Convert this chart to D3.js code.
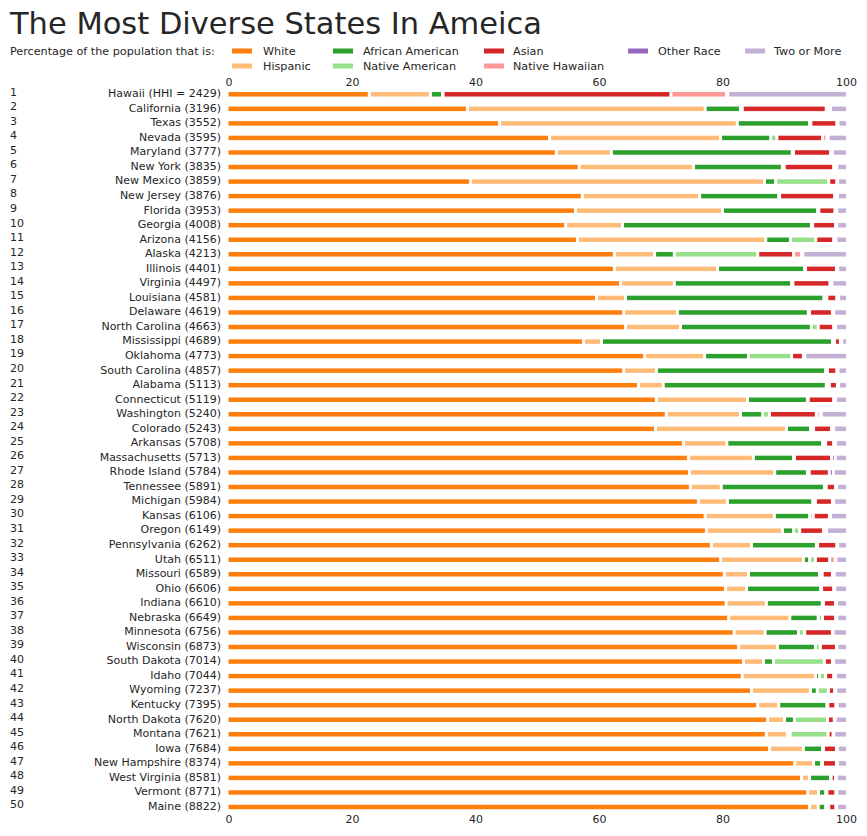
<!DOCTYPE html>
<html>
<head>
<meta charset="utf-8">
<script src="https://cdn.jsdelivr.net/npm/d3@7"></script>
<style>
  html, body { margin: 0; padding: 0; background: #fff; }
  svg { display: block; }
  text { font-family: "DejaVu Sans", sans-serif; fill: #262626; }
</style>
</head>
<body>
<svg id="chart" width="867" height="836"></svg>
<script>
const states = ["Hawaii","California","Texas","Nevada","Maryland","New York","New Mexico","New Jersey","Florida","Georgia","Arizona","Alaska","Illinois","Virginia","Louisiana","Delaware","North Carolina","Mississippi","Oklahoma","South Carolina","Alabama","Connecticut","Washington","Colorado","Arkansas","Massachusetts","Rhode Island","Tennessee","Michigan","Kansas","Oregon","Pennsylvania","Utah","Missouri","Ohio","Indiana","Nebraska","Minnesota","Wisconsin","South Dakota","Idaho","Wyoming","Kentucky","North Dakota","Montana","Iowa","New Hampshire","West Virginia","Vermont","Maine"];
const hhi = [2429,3196,3552,3595,3777,3835,3859,3876,3953,4008,4156,4213,4401,4497,4581,4619,4663,4689,4773,4857,5113,5119,5240,5243,5708,5713,5784,5891,5984,6106,6149,6262,6511,6589,6606,6610,6649,6756,6873,7014,7044,7237,7395,7620,7621,7684,8374,8581,8771,8822];

const white    = [22.8,38.7,43.9,52.0,53.1,56.8,39.2,57.3,56.2,54.6,56.5,62.5,62.5,63.5,59.6,64.0,64.3,57.5,67.4,64.0,66.4,69.3,70.9,69.15,73.7,74.5,74.65,74.8,76.1,77.2,77.4,78.2,79.7,80.3,80.5,80.6,81.0,81.9,82.6,83.4,83.2,84.7,85.7,87.3,87.1,87.6,91.7,92.8,93.8,94.1];
const hispanic = [9.9,38.5,38.5,27.7,8.9,18.5,47.6,19.0,23.8,9.2,30.5,6.5,16.7,8.7,4.7,8.7,8.9,2.9,9.7,5.3,4.0,14.75,12.0,21.2,7.0,10.5,13.8,5.0,4.7,11.2,12.3,6.5,13.4,3.9,3.4,6.5,9.9,5.0,6.3,3.25,11.85,9.55,3.4,2.75,3.4,5.5,3.05,1.3,1.75,1.4];
const african  = [1.95,5.7,11.7,8.1,29.3,14.4,1.8,12.8,15.4,30.6,4.0,3.2,14.1,19.0,32.1,21.2,21.2,37.4,7.1,27.4,26.4,9.7,3.6,3.9,15.5,6.5,5.3,16.7,13.8,5.7,1.8,10.5,1.0,11.5,12.0,9.05,4.6,5.4,6.15,1.6,0.65,1.1,7.8,1.6,0.45,3.1,1.3,3.4,1.15,1.2];
const nativeAm = [0.1,0.3,0.2,1.0,0.2,0.3,8.6,0.15,0.2,0.2,4.1,13.5,0.15,0.2,0.5,0.2,1.1,0.35,7.0,0.3,0.5,0.15,1.1,0.5,0.5,0.15,0.3,0.3,0.45,0.6,1.0,0.2,0.95,0.45,0.15,0.2,0.7,1.0,0.8,8.25,1.0,1.8,0.15,5.35,6.15,0.15,0.15,0.1,0.2,0.5];
const asian    = [36.9,13.6,4.2,7.4,6.0,8.0,1.3,8.9,2.6,3.7,2.9,5.8,5.0,6.0,1.6,3.7,2.5,0.95,1.9,1.5,1.3,4.1,7.6,2.9,1.3,6.0,3.25,1.5,2.75,2.6,3.85,3.1,2.3,1.65,1.95,1.95,2.1,4.5,2.6,1.3,1.3,1.0,1.3,1.1,0.8,2.1,2.25,0.7,1.45,1.15];
const hawaiian = [9.0,0.4,0.1,0.7,0.1,0.1,0.05,0.05,0.05,0.05,0.15,1.3,0.05,0.1,0.05,0.05,0.1,0.05,0.1,0.05,0.05,0.05,0.6,0.1,0.2,0.0,0.0,0.05,0.05,0.05,0.4,0.05,0.9,0.1,0.0,0.0,0.05,0.0,0.0,0.05,0.1,0.1,0.05,0.05,0.05,0.05,0.0,0.0,0.0,0.0];
const other    = [0.2,0.3,0.1,0.2,0.2,0.4,0.1,0.4,0.25,0.15,0.2,0.2,0.15,0.2,0.25,0.15,0.2,0.15,0.1,0.15,0.15,0.25,0.2,0.25,0.1,0.6,0.65,0.15,0.15,0.15,0.1,0.1,0.1,0.2,0.15,0.15,0.15,0.1,0.1,0.15,0.2,0.1,0.15,0.1,0.05,0.1,0.15,0.15,0.15,0.15];
const twoMore  = [19.15,2.5,1.3,2.9,2.2,1.5,1.35,1.4,1.5,1.5,1.65,7.0,1.35,2.3,1.2,2.0,1.7,0.7,6.7,1.3,1.2,1.7,4.0,2.0,1.7,1.75,2.05,1.5,2.0,2.5,3.15,1.35,1.65,1.9,1.85,1.55,1.5,2.1,1.45,2.0,1.7,1.65,1.45,1.75,2.0,1.4,1.4,1.55,1.5,1.5];

const categories = ["White","Hispanic","African American","Native American","Asian","Native Hawaiian","Other Race","Two or More"];
const colors = ["#ff7f0e","#ffbb78","#2ca02c","#98df8a","#d62728","#ff9896","#9467bd","#c5b0d5"];
const xTicks = [0,20,40,60,80,100];

const seriesArrays = [white, hispanic, african, nativeAm, asian, hawaiian, other, twoMore];
const rows = states.map((s, i) => {
  const r = { state: s, hhi: hhi[i], rank: i + 1 };
  categories.forEach((c, k) => { r[c] = seriesArrays[k][i]; });
  return r;
});

const svg = d3.select("#chart");

const x = d3.scaleLinear().domain([0, 100]).range([228.5, 846]);
const y = d3.scalePoint().domain(states).range([94.3, 807]);
const color = d3.scaleOrdinal().domain(categories).range(colors);

// Title
svg.append("text")
  .attr("x", 10).attr("y", 34)
  .style("font-size", "30px")
  .attr("textLength", 532).attr("lengthAdjust", "spacingAndGlyphs")
  .text("The Most Diverse States In Ameica");

// Legend
svg.append("text").attr("x", 10).attr("y", 51.5).attr("dy", "0.35em")
  .style("font-size", "11.2px").text("Percentage of the population that is:");

const legendPos = [
  {sx: 232, tx: 263, y: 51}, {sx: 232, tx: 263, y: 66},
  {sx: 333, tx: 363, y: 51}, {sx: 333, tx: 363, y: 66},
  {sx: 484, tx: 513, y: 51}, {sx: 484, tx: 513, y: 66},
  {sx: 628, tx: 658, y: 51}, {sx: 745, tx: 774, y: 51}
];
const lg = svg.append("g");
categories.forEach((c, k) => {
  const p = legendPos[k];
  lg.append("rect").attr("x", p.sx).attr("y", p.y - 2.5).attr("width", 20).attr("height", 5)
    .attr("fill", color(c));
  lg.append("text").attr("x", p.tx).attr("y", p.y).attr("dy", "0.35em")
    .style("font-size", "11.2px").text(c);
});

// Axes (top and bottom), no lines
const axTop = svg.append("g").attr("transform", "translate(0,86)")
  .call(d3.axisTop(x).tickValues(xTicks).tickSize(0).tickPadding(0).tickFormat(d3.format("d")));
const axBot = svg.append("g").attr("transform", "translate(0,815)")
  .call(d3.axisBottom(x).tickValues(xTicks).tickSize(0).tickPadding(0).tickFormat(d3.format("d")));
[axTop, axBot].forEach(a => {
  a.select(".domain").remove();
  a.selectAll("text").style("font-size", "11px").style("font-family", "DejaVu Sans, sans-serif").attr("fill", "#262626");
});

// Stacked bars
const stack = d3.stack().keys(categories);
const stacked = stack(rows);
const barH = 4.5;
const gap = 1.5;
const nK = categories.length;

stacked.forEach((layer, k) => {
  const g = svg.append("g").attr("fill", color(layer.key));
  layer.forEach((d, i) => {
    let x0 = x(d[0]) + (k > 0 ? gap : 0);
    let x1 = x(d[1]) - (k < nK - 1 ? gap : 0);
    if (x1 - x0 <= 0.05) return;
    g.append("rect")
      .attr("x", x0).attr("y", y(states[i]) - barH / 2)
      .attr("width", x1 - x0).attr("height", barH);
  });
});

// Row labels
const lab = svg.append("g");
rows.forEach((r, i) => {
  const yy = y(r.state);
  lab.append("text").attr("x", 10).attr("y", yy - 2.5).attr("dy", "0.35em")
    .style("font-size", "11px").text(r.rank);
  lab.append("text").attr("x", 221).attr("y", yy - 1).attr("dy", "0.35em")
    .attr("text-anchor", "end").style("font-size", "11px")
    .text(i === 0 ? `${r.state} (HHI = ${r.hhi})` : `${r.state} (${r.hhi})`);
});
</script>
</body>
</html>
